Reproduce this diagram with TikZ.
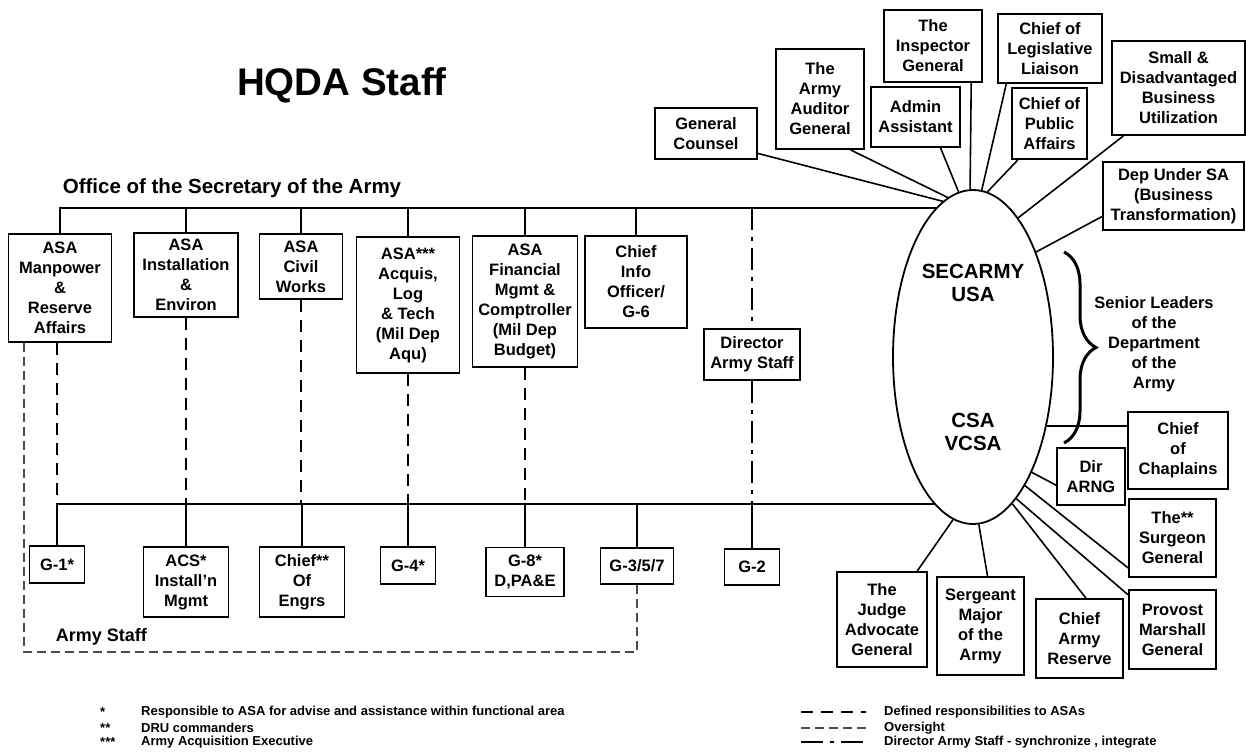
\documentclass[tikz,border=0pt]{standalone}
\usepackage{fontspec}
\setmainfont{Liberation Sans}
\usetikzlibrary{shapes.geometric, decorations.pathreplacing}
\newcommand{\orgfont}{\fontsize{16.5}{20}\selectfont\bfseries}
\newcommand{\keyfont}{\fontsize{13}{15}\selectfont\bfseries}
\tikzset{
  orgbox/.style={draw, line width=1.8pt, fill=white, align=center, inner sep=0pt, font=\orgfont},
  link/.style={line width=1.6pt},
  resp/.style={line width=1.6pt, dash pattern=on 12pt off 8pt},
  oversight/.style={line width=1.1pt, black!70, dash pattern=on 9pt off 5pt},
  dirstaff/.style={line width=1.6pt, dash pattern=on 22pt off 7pt on 4pt off 7pt},
  keytext/.style={font=\keyfont, inner sep=0pt, anchor=west}
}

\begin{document}
\begin{tikzpicture}[x=1pt, y=-1pt]
  \fill[white] (0,0) rectangle (1246,754);
  \useasboundingbox (0,0) rectangle (1246,754);

  % titles
  \node[font=\fontsize{38.5}{40}\selectfont\bfseries] (title) at (342,85) {HQDA Staff};
  \node[font=\fontsize{20.5}{24}\selectfont\bfseries] (osa) at (232,188) {Office of the Secretary of the Army};

  % SECARMY / CSA
  \node[draw, ellipse, line width=1.8pt, inner sep=0pt, minimum width=160pt, minimum height=334pt,
        align=center, font=\fontsize{20.5}{23}\selectfont\bfseries] (sec) at (973,357)
        {SECARMY\\USA\\[103pt]CSA\\VCSA};
  \coordinate (sectop) at (sec.104);
  \coordinate (secbot) at (sec.-105);
  \coordinate (secchap) at (sec.-43);

  % Assistant Secretaries
  \node[orgbox, minimum width=103pt, minimum height=108pt] (mpw) at (60,288) {ASA\\Manpower\\\&\\Reserve\\Affairs};
  \node[orgbox, minimum width=104pt, minimum height=84pt] (ins) at (186,275) {ASA\\Installation\\\&\\Environ};
  \node[orgbox, minimum width=83pt, minimum height=65pt] (civ) at (301,266.5) {ASA\\Civil\\Works};
  \node[orgbox, minimum width=103pt, minimum height=136pt] (alt) at (408,305) {ASA***\\Acquis,\\Log\\\& Tech\\(Mil Dep\\Aqu)};
  \node[orgbox, minimum width=105pt, minimum height=131pt] (fin) at (525,301.5) {ASA\\Financial\\Mgmt \&\\Comptroller\\(Mil Dep\\Budget)};
  \node[orgbox, minimum width=102pt, minimum height=92pt] (cio) at (636,282) {Chief\\Info\\Officer/\\G-6};
  \node[orgbox, minimum width=96pt, minimum height=51pt] (das) at (752,354.5) {Director\\Army Staff};

  % Army Staff
  \node[orgbox, minimum width=55pt, minimum height=37pt] (g1) at (57,564.5) {G-1*};
  \node[orgbox, minimum width=85pt, minimum height=70pt] (acs) at (186,582) {ACS*\\Install’n\\Mgmt};
  \node[orgbox, minimum width=85pt, minimum height=70pt] (coe) at (302,582) {Chief**\\Of\\Engrs};
  \node[orgbox, minimum width=55pt, minimum height=37pt] (g4) at (408,565.5) {G-4*};
  \node[orgbox, minimum width=78pt, minimum height=49pt] (g8) at (525,572) {G-8*\\D,PA\&E};
  \node[orgbox, minimum width=73pt, minimum height=36pt] (g357) at (637,566) {G-3/5/7};
  \node[orgbox, minimum width=55pt, minimum height=36pt] (g2) at (752,567) {G-2};

  % personal staff, top
  \node[orgbox, minimum width=102pt, minimum height=51pt] (gc) at (706,133.5) {General\\Counsel};
  \node[orgbox, minimum width=88pt, minimum height=100pt] (aud) at (820,99) {The\\Army\\Auditor\\General};
  \node[orgbox, minimum width=98pt, minimum height=72pt] (ig) at (933,46) {The\\Inspector\\General};
  \node[orgbox, minimum width=89pt, minimum height=60pt] (adm) at (915.5,117) {Admin\\Assistant};
  \node[orgbox, minimum width=104pt, minimum height=69pt] (leg) at (1050,48.5) {Chief of\\Legislative\\Liaison};
  \node[orgbox, minimum width=75pt, minimum height=71pt] (pa) at (1049.5,123.5) {Chief of\\Public\\Affairs};
  \node[orgbox, minimum width=133pt, minimum height=94pt] (sdb) at (1178.5,88) {Small \&\\Disadvantaged\\Business\\Utilization};
  \node[orgbox, minimum width=141pt, minimum height=68pt] (dus) at (1173.5,196) {Dep Under SA\\(Business\\Transformation)};

  % personal staff, bottom
  \node[orgbox, minimum width=100pt, minimum height=77pt] (chap) at (1178,450.5) {Chief\\of\\Chaplains};
  \node[orgbox, minimum width=68pt, minimum height=57pt] (arng) at (1091,476.5) {Dir\\ARNG};
  \node[orgbox, minimum width=87pt, minimum height=78pt] (surg) at (1172.5,538) {The**\\Surgeon\\General};
  \node[orgbox, minimum width=87pt, minimum height=79pt] (prov) at (1172.5,629.5) {Provost\\Marshall\\General};
  \node[orgbox, minimum width=87pt, minimum height=79pt] (res) at (1079.5,638.5) {Chief\\Army\\Reserve};
  \node[orgbox, minimum width=87pt, minimum height=98pt] (sgm) at (980.5,626) {Sergeant\\Major\\of the\\Army};
  \node[orgbox, minimum width=90pt, minimum height=95pt] (jag) at (882,619.5) {The\\Judge\\Advocate\\General};

  % senior leaders brace
  \coordinate (brtop) at (1064,252);
  \coordinate (brbot) at (1064,443);
  \draw[decorate, decoration={brace, amplitude=32pt}, line width=3pt] (brtop) -- (brbot);
  \node[align=center, font=\orgfont] (senior) at (1154,344) {Senior Leaders\\of the\\Department\\of the\\Army};

  % dashed responsibilities
  \draw[oversight] (mpw.south -| 24,0) -- (24,652) coordinate (staffcorner) -| (g357.south);
  \node[font=\fontsize{18}{20}\selectfont\bfseries] (stafflbl) at (101.5,637) {Army Staff};
  \draw[resp] (mpw.south -| g1.north) -- (g1.north |- secbot);
  \foreach \b in {ins,civ,alt,fin}
    \draw[resp] (\b.south) -- (\b.south |- secbot);
  \draw[dirstaff] (das.north |- sectop) -- (das.north);
  \draw[dirstaff] (das.south) -- (das.south |- secbot);

  % solid lines
  \draw[link] (mpw.north) |- (sectop);
  \foreach \b in {ins,civ,alt,fin,cio}
    \draw[link] (\b.north) -- (\b.north |- sectop);
  \draw[link] (g1.north) |- (secbot);
  \foreach \b in {acs,coe,g4,g8,g357,g2}
    \draw[link] (\b.north) -- (\b.north |- secbot);

  \draw[link] (sec.101) -- (gc.-21);
  \draw[link] (sec.99) -- (aud.-59);
  \draw[link] (sec.95.5) -- (adm.-51);
  \draw[link] (sec.91) -- (ig.-44);
  \draw[link] (sec.87.5) -- (leg.-141);
  \draw[link] (sec.85) -- (pa.-131);
  \draw[link] (sec.72) -- (sdb.-139);
  \draw[link] (sec.59.5) -- (dus.-164);

  \draw[link] (secchap) -- (secchap -| chap.west);
  \draw[link] (sec.-63) -- (arng.194);
  \draw[link] (sec.-68.5) -- (surg.214);
  \draw[link] (sec.-73) -- (prov.142);
  \draw[link] (sec.-75.5) -- (res.81);
  \draw[link] (sec.-88) -- (sgm.82);
  \draw[link] (sec.-97) -- (jag.54);

  % key
  \node[keytext] (star1) at (100,712) {*};
  \node[keytext] (star2) at (100,728) {**};
  \node[keytext] (star3) at (100,742) {***};
  \node[keytext] (key1) at (141,712) {Responsible to ASA for advise and assistance within functional area};
  \node[keytext] (key2) at (141,728) {DRU commanders};
  \node[keytext] (key3) at (141,742) {Army Acquisition Executive};

  \node[keytext] (keyresp) at (884,712) {Defined responsibilities to ASAs};
  \node[keytext] (keyover) at (884,728) {Oversight};
  \node[keytext] (keydas) at (884,742) {Director Army Staff - synchronize , integrate};
  \draw[resp] ([xshift=-83pt]keyresp.west) -- ([xshift=-18pt]keyresp.west);
  \draw[oversight] ([xshift=-83pt]keyover.west) -- ([xshift=-18pt]keyover.west);
  \draw[dirstaff] ([xshift=-83pt]keydas.west) -- ([xshift=-18pt]keydas.west);
\end{tikzpicture}
\end{document}
